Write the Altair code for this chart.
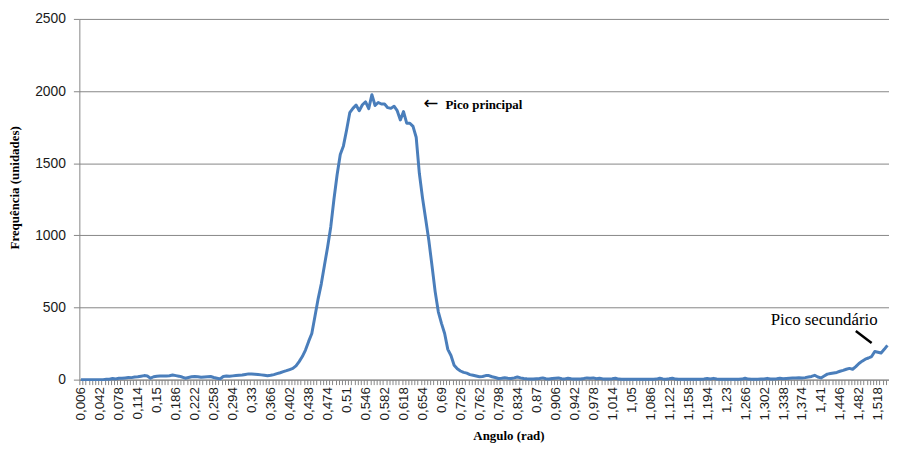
import altair as alt
import pandas as pd

# Category axis: angle in rad (step 0.006), shown with comma decimals
angles = [f"{0.006 * (k + 1):.3f}".rstrip("0").rstrip(".").replace(".", ",") for k in range(256)]

# Frequency (unidades)
freq = [
    0, 0, 0, 0, 0, 0, 0, 0, 2, 3,
    8, 5, 10, 9, 12, 15, 14, 18, 20, 24,
    28, 25, 10, 20, 24, 25, 26, 25, 27, 32,
    28, 24, 18, 10, 15, 20, 22, 20, 16, 18,
    20, 22, 15, 10, 5, 22, 25, 24, 26, 28,
    30, 32, 36, 40, 39, 38, 36, 33, 30, 27,
    30, 35, 42, 48, 55, 62, 70, 78, 95, 125,
    160, 205, 265, 320, 440, 560, 664, 792, 920, 1060,
    1250, 1420, 1560, 1620, 1730, 1850, 1880, 1903, 1864, 1905,
    1925, 1878, 1975, 1900, 1921, 1910, 1910, 1885, 1880, 1895,
    1864, 1800, 1858, 1777, 1777, 1755, 1680, 1430, 1260, 1113,
    965, 790, 610, 470, 390, 320, 210, 167, 100, 75,
    60, 50, 45, 35, 30, 25, 20, 22, 28, 28,
    20, 15, 8, 10, 13, 10, 8, 12, 18, 12,
    8, 6, 5, 4, 6, 8, 12, 6, 5, 8,
    10, 12, 6, 5, 10, 6, 4, 4, 5, 8,
    12, 10, 12, 6, 10, 5, 4, 5, 6, 10,
    4, 3, 3, 2, 3, 3, 2, 3, 3, 2,
    3, 3, 4, 10, 5, 3, 6, 10, 4, 3,
    3, 2, 2, 3, 3, 2, 3, 4, 8, 5,
    9, 4, 3, 3, 2, 3, 3, 3, 2, 4,
    10, 4, 3, 3, 3, 4, 5, 9, 5, 4,
    6, 10, 6, 8, 10, 12, 12, 13, 12, 14,
    18, 22, 30, 18, 12, 25, 38, 42, 46, 50,
    58, 64, 72, 78, 72, 90, 112, 128, 142, 150,
    160, 195, 190, 185, 210, 238,
]

y_ticks = [0, 500, 1000, 1500, 2000, 2500]

# Annotations (anchored in data space)
arrow_text = ["←"]
arrow_x = ["0,654"]
main_text = ["Pico principal"]
main_x = ["0,69"]
main_y = [1900]
sec_text = ["Pico secundário"]
sec_x = ["1,416"]
sec_y = [413]
pointer_x = ["1,476"]
pointer_x2 = ["1,506"]
pointer_y = [337]
pointer_y2 = [254]

df = pd.DataFrame({"ang": angles, "freq": freq})

W, H = 817, 364
half_step = W / len(angles) / 2
GRAY = "#868686"

xscale = alt.Scale(type="point", padding=0.5, domain=angles)
yscale = alt.Scale(domain=[0, 2500], nice=False)

label_expr = (
    "round(toNumber(replace(datum.value, ',', '.')) / 0.006 - 1) % 6 === 0 ? datum.value : ''"
)

line = alt.Chart(df).mark_line(color="#4A7EBB", strokeWidth=3, strokeJoin="round").encode(
    x=alt.X(
        "ang:O",
        sort=None,
        scale=xscale,
        axis=alt.Axis(
            values=angles,
            labelExpr=label_expr,
            labelAngle=270,
            labelAlign="right",
            labelBaseline="middle",
            labelOverlap=False,
            labelFont="Liberation Sans",
            labelFontSize=13.5,
            labelColor="#1a1a1a",
            labelPadding=2,
            tickOffset=-half_step,
            labelOffset=half_step,
            tickSize=5,
            tickColor=GRAY,
            domainColor=GRAY,
            grid=False,
            title="Angulo (rad)",
            titleFont="Liberation Serif",
            titleFontWeight="bold",
            titleFontSize=13,
            titleColor="#000000",
            titleX=433,
            titleY=56,
            titleAlign="center",
            titleBaseline="middle",
        ),
    ),
    y=alt.Y(
        "freq:Q",
        scale=yscale,
        axis=alt.Axis(
            values=y_ticks,
            format="d",
            grid=True,
            gridColor=GRAY,
            gridWidth=1,
            domainColor=GRAY,
            tickColor=GRAY,
            tickSize=6,
            labelFont="Liberation Sans",
            labelFontSize=14,
            labelColor="#1a1a1a",
            labelPadding=8,
            title="Frequência (unidades)",
            titleFont="Liberation Serif",
            titleFontWeight="bold",
            titleFontSize=13,
            titleColor="#000000",
            titleAngle=270,
            titleX=-65,
            titleY=170,
            titleAlign="center",
            titleBaseline="middle",
        ),
    ),
)

arrow_df = pd.DataFrame({"t": arrow_text, "x": arrow_x, "y": main_y})
arrow = alt.Chart(arrow_df).mark_text(
    align="left", baseline="middle", font="DejaVu Sans",
    fontSize=18, color="#000000", dx=1, dy=-1,
).encode(x=alt.X("x:O", scale=xscale), y=alt.Y("y:Q", scale=yscale), text="t:N")

main_df = pd.DataFrame({"t": main_text, "x": main_x, "y": main_y})
main_txt = alt.Chart(main_df).mark_text(
    align="left", baseline="middle", font="Liberation Serif", fontWeight="bold",
    fontSize=13, color="#000000", dx=4,
).encode(x=alt.X("x:O", scale=xscale), y=alt.Y("y:Q", scale=yscale), text="t:N")

sec_df = pd.DataFrame({"t": sec_text, "x": sec_x, "y": sec_y})
sec_txt = alt.Chart(sec_df).mark_text(
    align="center", baseline="middle", font="Liberation Serif",
    fontSize=17, color="#000000",
).encode(x=alt.X("x:O", scale=xscale), y=alt.Y("y:Q", scale=yscale), text="t:N")

ptr_df = pd.DataFrame({"x": pointer_x, "x2": pointer_x2, "y": pointer_y, "y2": pointer_y2})
pointer = alt.Chart(ptr_df).mark_rule(color="#000000", strokeWidth=2.5).encode(
    x=alt.X("x:O", scale=xscale), x2="x2:O",
    y=alt.Y("y:Q", scale=yscale), y2="y2:Q",
)

chart = (
    alt.layer(line, arrow, main_txt, sec_txt, pointer)
    .properties(
        width=W,
        height=H,
        autosize=alt.AutoSizeParams(type="none"),
        padding={"left": 72, "top": 9, "right": 0, "bottom": 70},
        background="white",
    )
    .configure_view(stroke=None)
)

chart.save("out.html", embed_options={"renderer": "svg", "actions": False})
